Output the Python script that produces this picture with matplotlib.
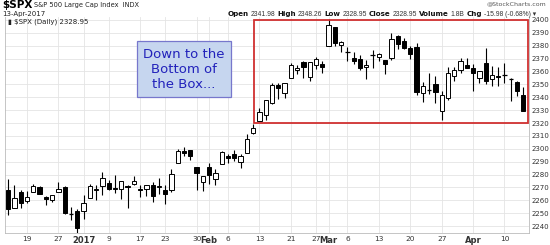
import matplotlib
matplotlib.use("Agg")
import matplotlib.pyplot as plt
from matplotlib.patches import Rectangle

# daily OHLC, 14-Dec-2016 .. 13-Apr-2017 (trading days only)
dates = ["Dec14", "Dec15", "Dec16", "Dec19", "Dec20", "Dec21", "Dec22", "Dec23",
         "Dec27", "Dec28", "Dec29", "Dec30",
         "Jan3", "Jan4", "Jan5", "Jan6", "Jan9", "Jan10", "Jan11", "Jan12", "Jan13",
         "Jan17", "Jan18", "Jan19", "Jan20", "Jan23", "Jan24", "Jan25", "Jan26", "Jan27",
         "Jan30", "Jan31",
         "Feb1", "Feb2", "Feb3", "Feb6", "Feb7", "Feb8", "Feb9", "Feb10", "Feb13", "Feb14",
         "Feb15", "Feb16", "Feb17", "Feb21", "Feb22", "Feb23", "Feb24", "Feb27", "Feb28",
         "Mar1", "Mar2", "Mar3", "Mar6", "Mar7", "Mar8", "Mar9", "Mar10", "Mar13", "Mar14",
         "Mar15", "Mar16", "Mar17", "Mar20", "Mar21", "Mar22", "Mar23", "Mar24", "Mar27",
         "Mar28", "Mar29", "Mar30", "Mar31",
         "Apr3", "Apr4", "Apr5", "Apr6", "Apr7", "Apr10", "Apr11", "Apr12", "Apr13"]
opens = [2268.35, 2253.77, 2266.81, 2259.24, 2266.50, 2270.54, 2262.93, 2260.25,
         2266.23, 2270.23, 2249.50, 2251.61,
         2251.57, 2261.60, 2268.18, 2271.14, 2273.59, 2269.72, 2268.60, 2271.14, 2272.74,
         2269.14, 2269.14, 2271.90, 2269.96, 2267.78, 2267.88, 2288.88, 2298.63, 2299.02,
         2286.01, 2274.02,
         2285.59, 2276.69, 2288.54, 2294.28, 2295.87, 2289.55, 2296.70, 2312.27, 2321.72, 2326.12,
         2335.58, 2349.64, 2343.01, 2354.91, 2361.11, 2367.50, 2355.73, 2365.23, 2366.08,
         2380.13, 2394.75, 2380.92, 2375.23, 2370.74, 2369.81, 2363.49, 2372.52, 2371.56, 2368.55,
         2370.34, 2387.71, 2383.71, 2378.24, 2379.32, 2343.00, 2345.97, 2350.42, 2329.11,
         2339.79, 2356.54, 2361.31, 2364.82,
         2362.34, 2354.76, 2366.59, 2353.79, 2356.59, 2357.16, 2353.92, 2352.15, 2341.98]
highs = [2276.20, 2272.12, 2268.05, 2267.47, 2272.56, 2271.23, 2263.18, 2263.79,
         2273.82, 2271.31, 2254.51, 2253.58,
         2263.88, 2272.82, 2271.50, 2282.10, 2275.49, 2279.27, 2275.32, 2271.78, 2278.68,
         2272.08, 2272.01, 2274.33, 2276.96, 2271.78, 2284.63, 2299.55, 2300.99, 2299.02,
         2286.01, 2279.09,
         2289.14, 2283.97, 2298.31, 2296.18, 2299.40, 2295.91, 2311.08, 2319.23, 2331.58, 2337.58,
         2351.30, 2351.31, 2351.16, 2366.71, 2365.13, 2368.26, 2367.34, 2371.54, 2367.79,
         2400.98, 2394.75, 2383.89, 2378.80, 2375.12, 2373.09, 2369.08, 2376.86, 2374.42, 2368.55,
         2390.01, 2388.10, 2385.71, 2379.55, 2381.93, 2351.81, 2358.92, 2356.22, 2344.90,
         2363.78, 2363.36, 2370.42, 2370.35,
         2365.87, 2360.53, 2378.36, 2364.16, 2363.76, 2366.37, 2355.22, 2352.72, 2348.26]
lows = [2248.44, 2253.77, 2254.24, 2258.21, 2266.14, 2265.15, 2256.08, 2258.84,
        2266.15, 2249.11, 2244.56, 2233.62,
        2245.13, 2261.60, 2260.45, 2264.06, 2268.04, 2265.27, 2260.83, 2254.25, 2271.51,
        2262.81, 2263.35, 2258.41, 2265.01, 2257.02, 2266.68, 2288.88, 2294.08, 2291.62,
        2268.04, 2267.21,
        2272.44, 2271.65, 2287.88, 2288.57, 2290.16, 2285.38, 2296.61, 2311.10, 2321.42, 2322.17,
        2334.81, 2338.87, 2339.58, 2354.91, 2358.34, 2355.09, 2352.87, 2361.87, 2358.96,
        2380.13, 2380.17, 2375.39, 2367.98, 2365.51, 2361.01, 2354.54, 2363.04, 2368.52, 2358.18,
        2368.94, 2377.18, 2377.64, 2369.66, 2341.90, 2336.45, 2342.13, 2335.74, 2322.25,
        2337.63, 2352.94, 2358.58, 2362.60,
        2344.73, 2350.72, 2350.52, 2348.90, 2348.69, 2350.74, 2337.25, 2341.18, 2328.95]
closes = [2253.28, 2262.03, 2258.07, 2262.53, 2270.76, 2265.18, 2260.96, 2263.79,
          2268.88, 2249.92, 2249.26, 2238.83,
          2257.83, 2270.75, 2269.00, 2276.98, 2268.90, 2268.90, 2275.32, 2270.44, 2274.64,
          2267.89, 2271.89, 2263.69, 2271.31, 2265.20, 2280.07, 2298.37, 2296.68, 2294.69,
          2280.90, 2278.87,
          2279.55, 2280.85, 2297.42, 2292.56, 2293.08, 2294.67, 2307.87, 2316.10, 2328.25, 2337.58,
          2349.25, 2347.22, 2351.16, 2365.38, 2362.82, 2363.81, 2367.34, 2369.75, 2363.64,
          2395.96, 2381.92, 2383.12, 2375.31, 2368.39, 2362.98, 2364.87, 2372.60, 2373.47, 2365.45,
          2385.26, 2381.38, 2378.25, 2373.47, 2344.02, 2348.45, 2345.96, 2343.98, 2341.59,
          2358.57, 2361.13, 2368.06, 2362.72,
          2358.84, 2360.16, 2352.95, 2357.49, 2355.54, 2357.16, 2353.78, 2344.93, 2328.95]

tick_dates = ["Dec19", "Dec27", "Jan3", "Jan9", "Jan17", "Jan23", "Jan30", "Feb1", "Feb6",
              "Feb13", "Feb21", "Feb27", "Mar1", "Mar6", "Mar13", "Mar20", "Mar27", "Apr3", "Apr10"]
tick_labels = ["19", "27", "2017", "9", "17", "23", "30", "Feb", "6",
               "13", "21", "27", "Mar", "6", "13", "20", "27", "Apr", "10"]
bold_labels = ["2017", "Feb", "Mar", "Apr"]

box_low, box_high = 2320, 2400
yticks = list(range(2240, 2401, 10))

fig = plt.figure(figsize=(5.5, 2.45), dpi=100)
ax = fig.add_axes([5 / 550, 1 - 233 / 245, 524 / 550, 216 / 245])

x0 = dates.index("Dec19")
xs = [i - x0 for i in range(len(dates))]

for x, o, h, l, c in zip(xs, opens, highs, lows, closes):
    ax.vlines(x, l, h, color="black", lw=0.8, zorder=3)
    bottom, top = min(o, c), max(o, c)
    if top - bottom < 0.6:
        ax.hlines(o, x - 0.34, x + 0.34, color="black", lw=0.9, zorder=4)
    else:
        ax.add_patch(Rectangle((x - 0.34, bottom), 0.68, top - bottom,
                               facecolor="black" if c < o else "white",
                               edgecolor="black", lw=0.7, zorder=4))

ax.set_xlim(-3.5, xs[-1] + 0.9)
ax.set_ylim(2234.6, 2402.3)

tick_x = [dates.index(d) - x0 for d in tick_dates]
ax.set_xticks(tick_x)
ax.set_xticklabels(tick_labels, fontsize=5.3, color="#333333")
for t in ax.get_xticklabels():
    if t.get_text() in bold_labels:
        t.set_fontweight("bold")
        t.set_fontsize(6)
ax.set_yticks(yticks)
ax.set_yticklabels([str(v) for v in yticks], fontsize=5, color="#333333")
ax.yaxis.tick_right()
ax.tick_params(length=0, pad=2)
ax.grid(True, color="#e4e4e4", lw=0.6)
ax.set_axisbelow(True)
for s in ax.spines.values():
    s.set_color("#bbbbbb")
    s.set_linewidth(0.6)
ax.spines["top"].set_visible(False)

# red "box" range
bx = dates.index("Feb13") - x0 - 0.9
ax.add_patch(Rectangle((bx, box_low), xs[-1] + 0.7 - bx, box_high - box_low,
                       fill=False, edgecolor="#d03030", lw=1.3, zorder=5))

# annotation box
fig.text(184 / 550, 1 - 69 / 245, "Down to the\nBottom of\nthe Box...", ha="center", va="center",
         fontsize=9.5, color="#2222bb", linespacing=1.2,
         bbox=dict(boxstyle="square,pad=0.5", facecolor="#c6d6ef", edgecolor="#7777cc", lw=0.9))

# header
fig.text(2 / 550, 1 - 5 / 245, "$SPX", fontsize=7.5, fontweight="bold", va="center")
fig.text(34 / 550, 1 - 5 / 245, "S&P 500 Large Cap Index  INDX", fontsize=4.8, va="center", color="#222222")
fig.text(2 / 550, 1 - 14 / 245, "13-Apr-2017", fontsize=5, va="center", color="#222222")
fig.text(546 / 550, 1 - 4 / 245, "@StockCharts.com", fontsize=4.5, va="center", ha="right", color="#555555")
fig.text(8 / 550, 1 - 21.5 / 245, "\u25AE $SPX (Daily) 2328.95", fontsize=5, va="center", color="#222222")

# quote line: label/value pairs laid out to end near x=540 px
quote_labels = ["Open", "High", "Low", "Close", "Volume", "Chg"]
quote_values = ["2341.98", "2348.26", "2328.95", "2328.95", "1.8B", "-15.98 (-0.68%) \u25BE"]
fig.canvas.draw()
renderer = fig.canvas.get_renderer()
pieces = []
for lab, val in zip(quote_labels, quote_values):
    tl = fig.text(0, 1 - 14 / 245, lab, fontsize=5.1, fontweight="bold", va="center", color="#111111")
    tv = fig.text(0, 1 - 14 / 245, val, fontsize=4.9, va="center", color="#333333",
                  family=["Liberation Sans", "DejaVu Sans"])
    pieces.append((tl, tl.get_window_extent(renderer=renderer).width))
    pieces.append((tv, tv.get_window_extent(renderer=renderer).width))
text_w = sum(w for _, w in pieces)
inner_gap = 2.0
outer_gap = max(2.0, (536 - 231 - text_w - inner_gap * len(quote_labels)) / (len(quote_labels) - 1))
xpos = 536 - text_w - inner_gap * len(quote_labels) - outer_gap * (len(quote_labels) - 1)
for k, (t, w) in enumerate(pieces):
    t.set_x(xpos / 550)
    xpos += w + (inner_gap if k % 2 == 0 else outer_gap)

fig.savefig("out.png", dpi=100)
